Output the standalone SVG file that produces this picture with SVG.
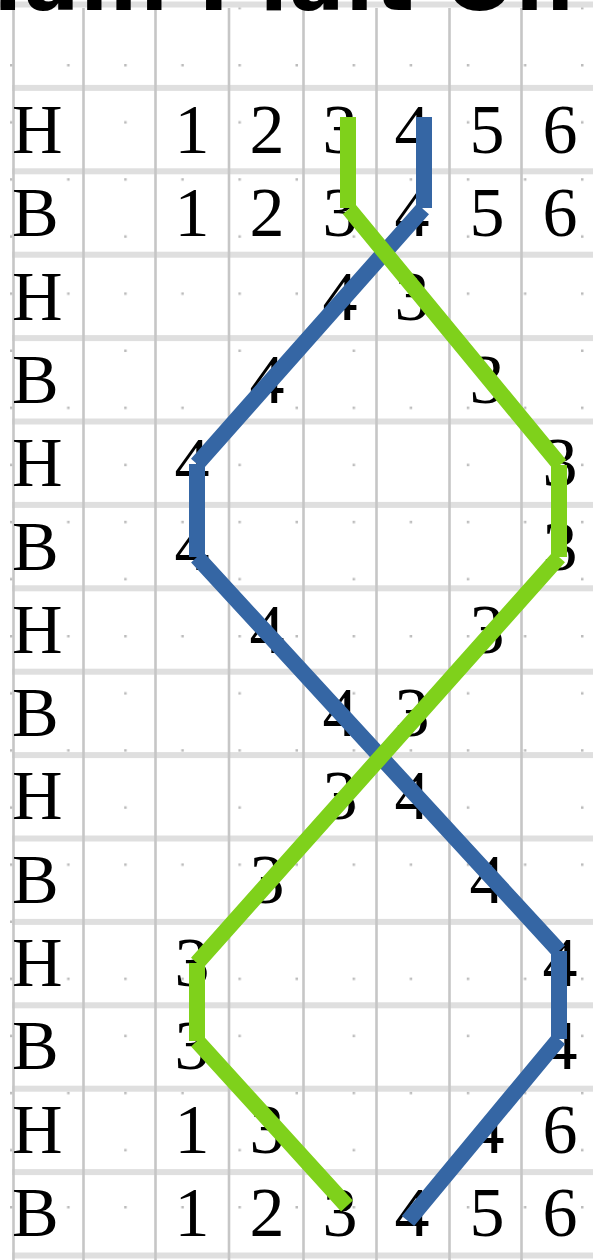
<svg xmlns="http://www.w3.org/2000/svg" width="593" height="1260" viewBox="0 0 593 1260">
<style>
.band{fill:#dfdfdf}
.vl{stroke:#c6c6c6;stroke-width:2.6}
.lbl{font-family:"Liberation Serif","Times New Roman",serif;font-size:70px;fill:#000}
.num{font-family:"Liberation Serif","Times New Roman",serif;font-size:70px;fill:#000;text-anchor:middle}
.title{font-family:"DejaVu Sans",sans-serif;font-weight:bold;font-size:82px;fill:#000}
.strand{fill:none;stroke-width:16;stroke-linecap:butt}
</style>
<defs>
<pattern id="dots" patternUnits="userSpaceOnUse" x="10" y="64" width="114.2" height="114.2">
<rect x="0" y="0" width="2.5" height="2.5" fill="#bcbcbc"/>
<rect x="57.1" y="0" width="2.5" height="2.5" fill="#bcbcbc"/>
<rect x="0" y="57.1" width="2.5" height="2.5" fill="#bcbcbc"/>
</pattern>
</defs>
<rect width="593" height="1260" fill="#fff"/>
<rect x="0" y="0" width="593" height="1260" fill="url(#dots)"/>
<g id="grid">
<rect class="band" x="0" y="1.5" width="593" height="6"/>
<rect class="band" x="12" y="84.9" width="581" height="6"/>
<rect class="band" x="12" y="168.3" width="581" height="6"/>
<rect class="band" x="12" y="251.7" width="581" height="6"/>
<rect class="band" x="12" y="335.1" width="581" height="6"/>
<rect class="band" x="12" y="418.5" width="581" height="6"/>
<rect class="band" x="12" y="501.9" width="581" height="6"/>
<rect class="band" x="12" y="585.3" width="581" height="6"/>
<rect class="band" x="12" y="668.7" width="581" height="6"/>
<rect class="band" x="12" y="752.1" width="581" height="6"/>
<rect class="band" x="12" y="835.5" width="581" height="6"/>
<rect class="band" x="12" y="918.9" width="581" height="6"/>
<rect class="band" x="12" y="1002.3" width="581" height="6"/>
<rect class="band" x="12" y="1085.7" width="581" height="6"/>
<rect class="band" x="12" y="1169.1" width="581" height="6"/>
<rect class="band" x="12" y="1252.5" width="581" height="6"/>
<line class="vl" x1="13.5" y1="8" x2="13.5" y2="1260"/>
<line class="vl" x1="83.5" y1="8" x2="83.5" y2="1260"/>
<line class="vl" x1="155.5" y1="8" x2="155.5" y2="1260"/>
<line class="vl" x1="229" y1="8" x2="229" y2="1260"/>
<line class="vl" x1="303.5" y1="8" x2="303.5" y2="1260"/>
<line class="vl" x1="376.5" y1="8" x2="376.5" y2="1260"/>
<line class="vl" x1="449.5" y1="8" x2="449.5" y2="1260"/>
<line class="vl" x1="521.5" y1="8" x2="521.5" y2="1260"/>
</g>
<g id="title">
<text class="title" x="-59" y="10" textLength="633" lengthAdjust="spacing">Main Plait On</text>
</g>
<g id="row-1"><text class="lbl" x="12" y="153">H</text><text class="num" x="192" y="153">1</text><text class="num" x="267" y="153">2</text><text class="num" x="340" y="153">3</text><text class="num" x="412" y="153">4</text><text class="num" x="487" y="153">5</text><text class="num" x="560" y="153">6</text></g>
<g id="row-2"><text class="lbl" x="12" y="236.3">B</text><text class="num" x="192" y="236.3">1</text><text class="num" x="267" y="236.3">2</text><text class="num" x="340" y="236.3">3</text><text class="num" x="412" y="236.3">4</text><text class="num" x="487" y="236.3">5</text><text class="num" x="560" y="236.3">6</text></g>
<g id="row-3"><text class="lbl" x="12" y="319.6">H</text><text class="num" x="340" y="319.6">4</text><text class="num" x="412" y="319.6">3</text></g>
<g id="row-4"><text class="lbl" x="12" y="402.9">B</text><text class="num" x="267" y="402.9">4</text><text class="num" x="487" y="402.9">3</text></g>
<g id="row-5"><text class="lbl" x="12" y="486.2">H</text><text class="num" x="192" y="486.2">4</text><text class="num" x="560" y="486.2">3</text></g>
<g id="row-6"><text class="lbl" x="12" y="569.5">B</text><text class="num" x="192" y="569.5">4</text><text class="num" x="560" y="569.5">3</text></g>
<g id="row-7"><text class="lbl" x="12" y="652.8">H</text><text class="num" x="267" y="652.8">4</text><text class="num" x="487" y="652.8">3</text></g>
<g id="row-8"><text class="lbl" x="12" y="736.1">B</text><text class="num" x="340" y="736.1">4</text><text class="num" x="412" y="736.1">3</text></g>
<g id="row-9"><text class="lbl" x="12" y="819.4">H</text><text class="num" x="340" y="819.4">3</text><text class="num" x="412" y="819.4">4</text></g>
<g id="row-10"><text class="lbl" x="12" y="902.7">B</text><text class="num" x="267" y="902.7">3</text><text class="num" x="487" y="902.7">4</text></g>
<g id="row-11"><text class="lbl" x="12" y="986">H</text><text class="num" x="192" y="986">3</text><text class="num" x="560" y="986">4</text></g>
<g id="row-12"><text class="lbl" x="12" y="1069.3">B</text><text class="num" x="192" y="1069.3">3</text><text class="num" x="560" y="1069.3">4</text></g>
<g id="row-13"><text class="lbl" x="12" y="1152.6">H</text><text class="num" x="192" y="1152.6">1</text><text class="num" x="267" y="1152.6">3</text><text class="num" x="487" y="1152.6">4</text><text class="num" x="560" y="1152.6">6</text></g>
<g id="row-14"><text class="lbl" x="12" y="1235.9">B</text><text class="num" x="192" y="1235.9">1</text><text class="num" x="267" y="1235.9">2</text><text class="num" x="340" y="1235.9">3</text><text class="num" x="412" y="1235.9">4</text><text class="num" x="487" y="1235.9">5</text><text class="num" x="560" y="1235.9">6</text></g>
<g id="connectors">
<path id="strand-blue" class="strand" stroke="#3566a4" d="M424 117 V208 M423 209 L197 464 M197 464 V557 M197 557 L559 951 M559 951 V1039 M559 1039 L408 1221"/>
<path id="strand-green" class="strand" stroke="#7fd11b" d="M348 117 V208 M349 209 L560 465 M559 465 V557 M559 557 L197 963 M197 963 V1041 M197 1041 L347 1206"/>
</g>
</svg>
